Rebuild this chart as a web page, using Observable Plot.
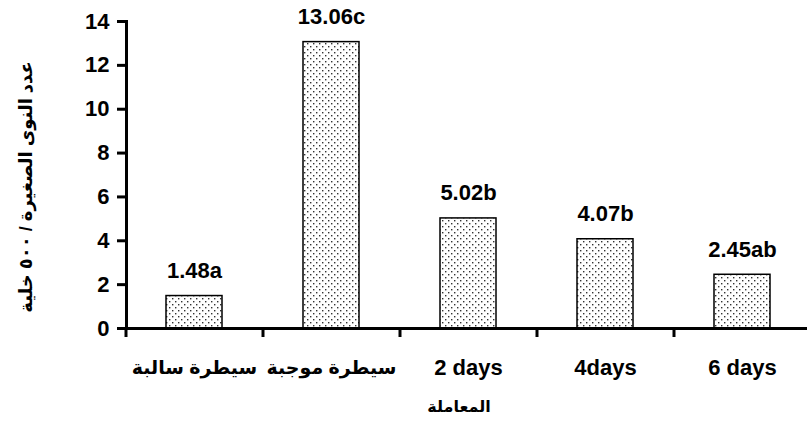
<!DOCTYPE html>
<html><head><meta charset="utf-8">
<script src="https://cdn.jsdelivr.net/npm/d3@7"></script>
<script src="https://cdn.jsdelivr.net/npm/@observablehq/plot@0.6"></script>
<style>html,body{margin:0;padding:0;background:#fff;overflow:hidden}</style>
</head><body><div id="chart"></div>
<script>
const categories = ["سيطرة سالبة", "سيطرة موجبة", "2 days", "4days", "6 days"];
const values = [1.48, 13.06, 5.02, 4.07, 2.45];
const letters = ["a", "c", "b", "b", "ab"];
const yTicks = [0, 2, 4, 6, 8, 10, 12, 14];
const yTitle = "عدد النوى الصغيرة / ٥٠٠ خلية";
const xTitle = "المعاملة";

const data = categories.map((c, i) => ({cat: c, value: values[i], label: values[i].toFixed(2) + letters[i]}));

const font = "'Liberation Sans', Arial, 'DejaVu Sans', sans-serif";
const isLatin = s => /[A-Za-z0-9]/.test(s);

const chart = Plot.plot({
  width: 807,
  height: 434,
  marginLeft: 126,
  marginRight: 0,
  marginTop: 21,
  marginBottom: 106,
  style: {fontFamily: font, background: "white", overflow: "visible", color: "black"},
  x: {domain: categories, range: [126, 811], paddingInner: 0.59, paddingOuter: 0.295, axis: null},
  y: {domain: [0, 14], axis: null},
  marks: [
    Plot.barY(data, {x: "cat", y: "value", fill: "#ddd", stroke: "black", strokeWidth: 1.5}),
    Plot.ruleY([0], {strokeWidth: 3}),
    Plot.frame({anchor: "left", strokeWidth: 3}),
    Plot.axisY({ticks: yTicks, tickSize: 9, tickPadding: 8, strokeWidth: 3, fontSize: 22, fontWeight: "bold", label: null}),
    Plot.axisX({tickSize: 9, strokeWidth: 3, dx: -68.5, tickFormat: () => "", label: null}),
    Plot.text(categories, {x: d => d, frameAnchor: "bottom", lineAnchor: "middle", dy: 39,
      fontSize: d => isLatin(d) ? 22 : 19, fontWeight: "bold"}),
    Plot.text(data, {x: "cat", y: "value", text: "label", dy: -18, lineAnchor: "bottom", fontSize: 22, fontWeight: "bold"}),
    Plot.text([yTitle], {frameAnchor: "left", textAnchor: "middle", lineAnchor: "middle", rotate: -90, dx: -100, dy: 12, fontSize: 18, fontWeight: "bold"}),
    Plot.text([xTitle], {frameAnchor: "bottom", textAnchor: "middle", lineAnchor: "middle", dx: -8, dy: 78, fontSize: 16, fontWeight: "bold"})
  ]
});

const svg = d3.select(chart.tagName.toLowerCase() === "svg" ? chart : chart.querySelector("svg"));
const defs = svg.insert("defs", ":first-child");
const pat = defs.append("pattern").attr("id", "dots").attr("patternUnits", "userSpaceOnUse")
  .attr("width", 6).attr("height", 6);
pat.append("rect").attr("width", 6).attr("height", 6).attr("fill", "white");
pat.append("rect").attr("x", 1).attr("y", 1).attr("width", 1.4).attr("height", 1.4).attr("fill", "#333");
pat.append("rect").attr("x", 4).attr("y", 4).attr("width", 1.4).attr("height", 1.4).attr("fill", "#333");
svg.selectAll("g[aria-label='bar'] rect").attr("fill", "url(#dots)");

document.getElementById("chart").appendChild(chart);
</script>
</body></html>
